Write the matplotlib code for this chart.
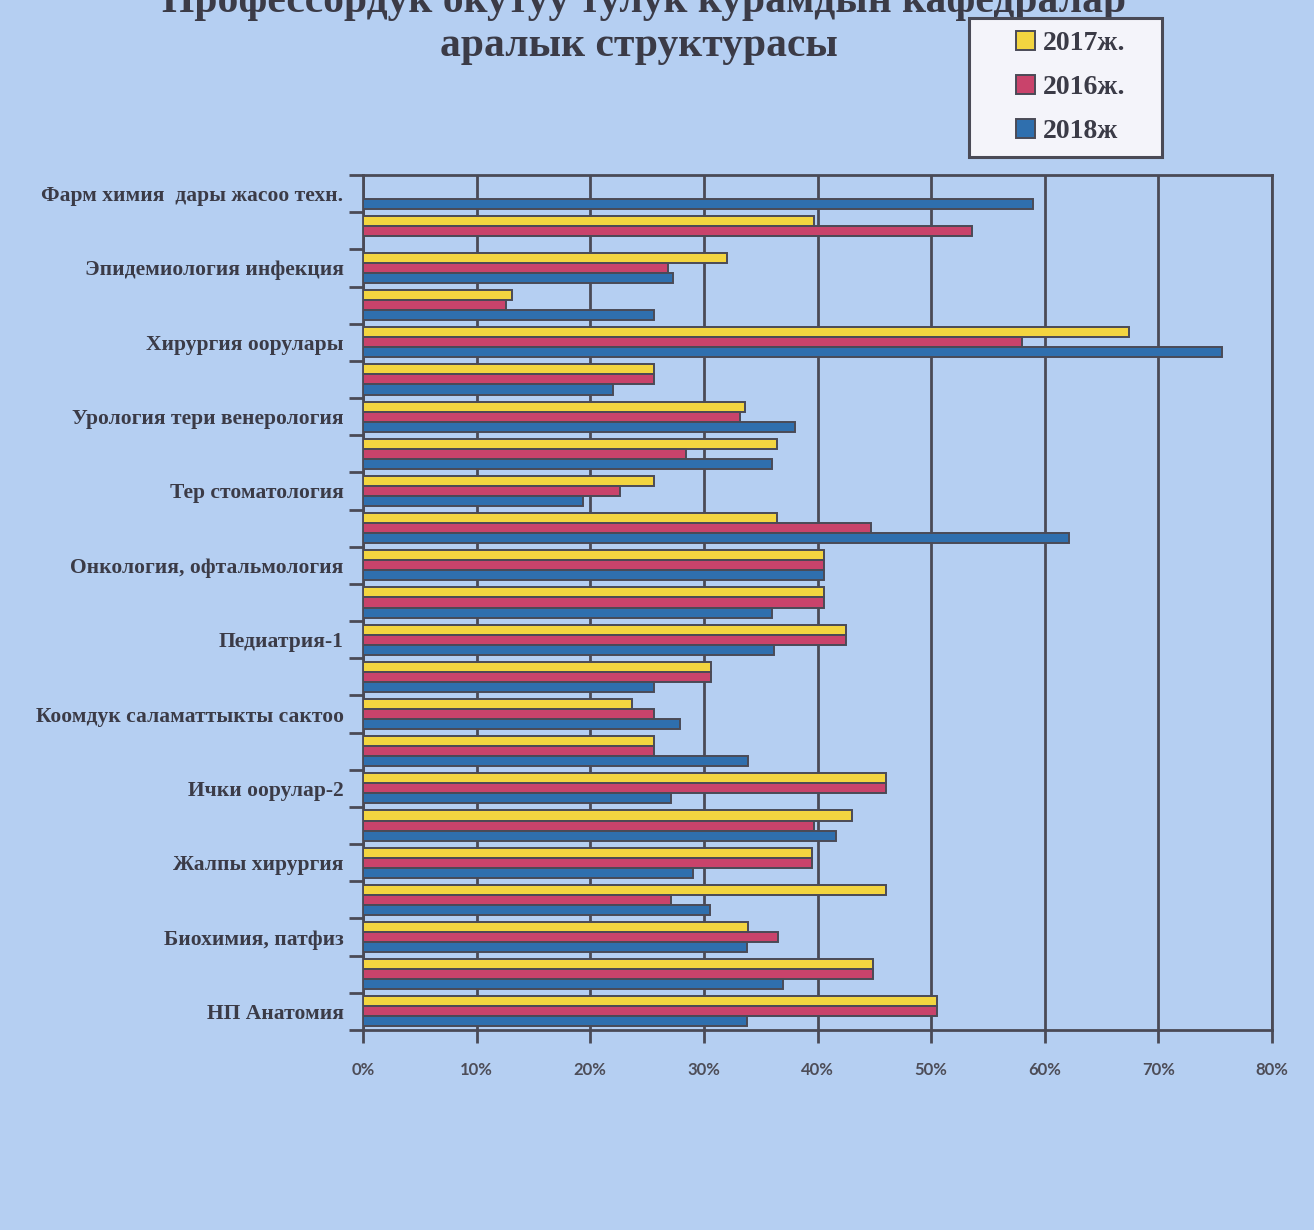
import numpy as np
import matplotlib
matplotlib.use("Agg")
import matplotlib.pyplot as plt
from matplotlib.patches import Patch, Rectangle

# categories, top to bottom (only every other one carries a label)
labels = ['Фарм химия  дары жасоо техн.', '', 'Эпидемиология инфекция', '',
          'Хирургия оорулары', '', 'Урология тери венерология', '',
          'Тер стоматология', '', 'Онкология, офтальмология', '',
          'Педиатрия-1', '', 'Коомдук саламаттыкты сактоо', '',
          'Ички оорулар-2', '', 'Жалпы хирургия', '',
          'Биохимия, патфиз', '', 'НП Анатомия']

# percent values, same order as labels
y2017 = [0, 39.7, 32.0, 13.1, 67.4, 25.6, 33.6, 36.4, 25.6, 36.4, 40.6, 40.6,
         42.5, 30.6, 23.7, 25.6, 46.0, 43.0, 39.5, 46.0, 33.9, 44.9, 50.5]
y2016 = [0, 53.6, 26.8, 12.6, 58.0, 25.6, 33.2, 28.4, 22.6, 44.7, 40.6, 40.6,
         42.5, 30.6, 25.6, 25.6, 46.0, 39.7, 39.5, 27.1, 36.5, 44.9, 50.5]
y2018 = [59.0, 0, 27.3, 25.6, 75.6, 22.0, 38.0, 36.0, 19.4, 62.1, 40.6, 36.0,
         36.2, 25.6, 27.9, 33.9, 27.1, 41.6, 29.0, 30.5, 33.8, 37.0, 33.8]
xticks = [0, 10, 20, 30, 40, 50, 60, 70, 80]

series = [('2017ж.', y2017, '#f3d540'), ('2016ж.', y2016, '#c9436b'), ('2018ж', y2018, '#2f6fae')]

bg = '#b5cff2'
dark = '#4a4a56'
txt = '#3b3b47'
W, H = 1314, 1230

fig = plt.figure(figsize=(W / 100, H / 100), dpi=100, facecolor=bg)
ax = fig.add_axes([363/W, 1 - 1030/H, (1272-363)/W, (1030-175)/H])
ax.set_facecolor(bg)

n = len(labels)
pos = np.arange(n)[::-1]   # top category gets the highest y
h = 0.27
offsets = [h, 0, -h]
for (name, vals, col), off in zip(series, offsets):
    ax.barh(pos + off, vals, height=h, color=col, edgecolor=dark, linewidth=1.4, zorder=3)

ax.set_xlim(0, 80)
ax.set_ylim(-0.5, n - 0.5)
ax.set_xticks(xticks)
ax.set_xticklabels([f'{t}%' for t in xticks], fontsize=12, fontweight='bold',
                   color='#4d4d58', family='Lato')
ax.xaxis.grid(True, color=dark, linewidth=2, zorder=1)
ax.tick_params(axis='x', length=9, width=2, color=dark, pad=14)

ax.set_yticks(pos)
ax.set_yticklabels(labels, fontsize=15.5, fontweight='bold', color=txt, family='Liberation Serif')
ax.tick_params(axis='y', length=0, pad=14)
ax.set_yticks(np.arange(n + 1) - 0.5, minor=True)
ax.tick_params(axis='y', which='minor', length=10, width=2, color=dark)

for s in ax.spines.values():
    s.set_color(dark)
    s.set_linewidth(2)

# title, first line runs off the top edge like in the scan
fig.text(0.49, 1 - 2/H, 'Профессордук окутуу тулук курамдын кафедралар', ha='center', va='center',
         fontsize=30, fontweight='bold', color=txt, family='Liberation Serif')
fig.text(0.486, 1 - 46/H, 'аралык структурасы', ha='center', va='center',
         fontsize=30, fontweight='bold', color=txt, family='Liberation Serif')

# legend frame drawn by hand so it can be as wide as in the original
fig.add_artist(Rectangle((969/W, 1 - 157/H), (1162-969)/W, (157-18)/H, transform=fig.transFigure,
                         facecolor='#f4f4fa', edgecolor=dark, linewidth=2.2, zorder=5))
handles = [Patch(facecolor=c, edgecolor=dark, linewidth=1.4) for _, _, c in series]
leg = fig.legend(handles, [s[0] for s in series], loc='upper left',
                 bbox_to_anchor=(1016/W, 1 - 31/H),
                 prop={'family': 'Liberation Serif', 'weight': 'bold', 'size': 20},
                 frameon=False, handlelength=0.7, handleheight=0.7,
                 handletextpad=0.25, labelspacing=0.66, borderpad=0, borderaxespad=0)
leg.set_zorder(6)
for t in leg.get_texts():
    t.set_color(txt)

fig.savefig('out.png', dpi=100, facecolor=bg)
